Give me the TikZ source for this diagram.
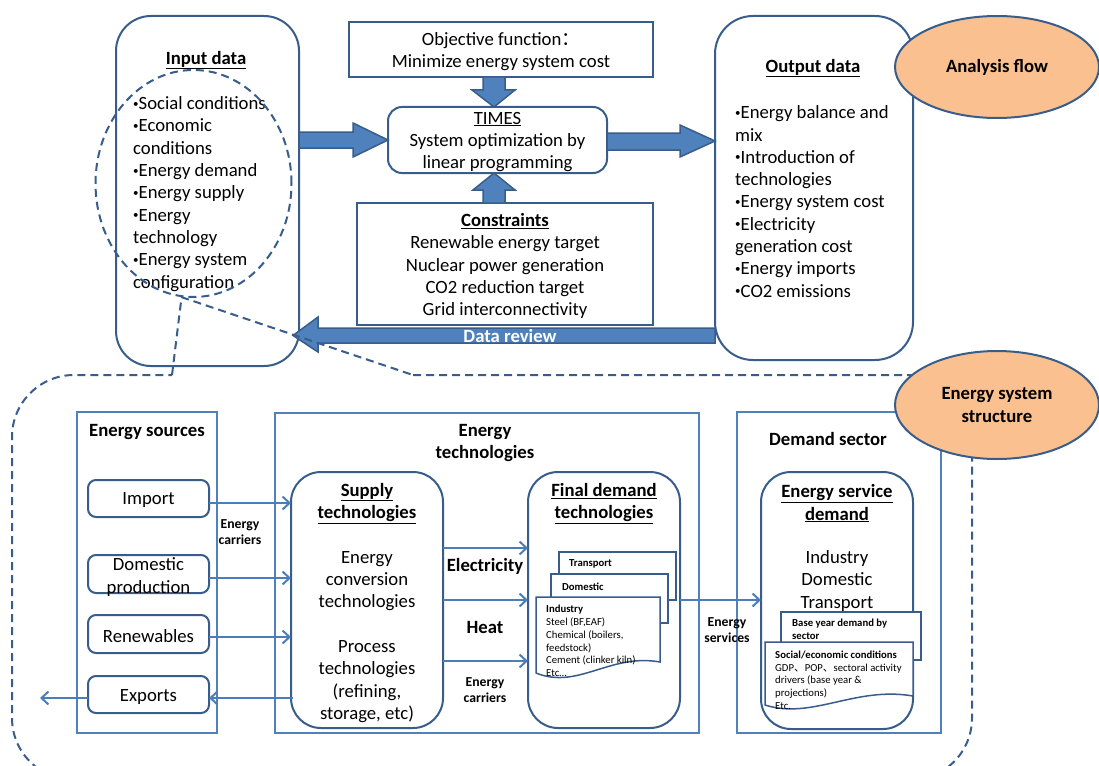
\documentclass[tikz,border=0pt]{standalone}
\usepackage{fontspec}
\setmainfont{Carlito}
\newfontfamily\cjkfont{Noto Sans CJK SC}
\usetikzlibrary{arrows.meta,calc,shapes.geometric}
\definecolor{bdark}{HTML}{385D8A}
\definecolor{bmid}{HTML}{4F81BD}
\definecolor{bline}{HTML}{4A7EBB}
\definecolor{orng}{HTML}{FAC090}
\newcommand\myBody{\fontsize{18.7}{22.3}\selectfont}
\newcommand\myMid{\fontsize{13.7}{16.5}\selectfont}
\newcommand\mySmall{\fontsize{10.7}{12.7}\selectfont}
\newcommand\myBul{\raisebox{2.4pt}{\fontsize{11}{0}\selectfont•}}
\begin{document}
\begin{tikzpicture}[x=1pt,y=-1pt,
  rbox/.style={draw=bdark, line width=2pt, fill=white, rounded corners=#1, inner sep=0pt, outer sep=0pt},
  rbox/.default=30pt,
  sbox/.style={draw=bdark, line width=2pt, fill=white, inner sep=0pt, outer sep=0pt},
  pbox/.style={draw=bmid, line width=1.5pt, inner sep=0pt, outer sep=0pt},
  oval/.style={ellipse, draw=bdark, line width=2pt, fill=orng, inner sep=0pt, font=\myBody\bfseries, align=center},
  barrow/.style={fill=bmid, draw=bdark, line width=1.5pt, line join=miter},
  tarrow/.style={draw=bline, line width=2pt, -{Straight Barb[length=7pt,width=13pt]}},
  dashln/.style={draw=bdark, line width=2pt, dash pattern=on 8pt off 5pt},
  txt/.style={font=\myBody, align=center, inner sep=0pt, yshift=-2pt},
  ttl/.style={font=\myBody\bfseries, align=center, inner sep=0pt, yshift=-2pt},
  ltxt/.style={font=\myBody, align=left, inner sep=0pt, anchor=west, yshift=-2pt},
  mtxt/.style={font=\myMid\bfseries, align=center, inner sep=0pt},
  stxt/.style={font=\mySmall, align=left, inner sep=0pt, anchor=west},
  doc/.style={draw=bdark, line width=1.5pt, fill=white}
]
\useasboundingbox (0,0) rectangle (1099,765);

% ---------- top: analysis flow ----------
\node[rbox=35pt, minimum width=183pt, minimum height=350pt] (inp) at (207.5,191) {};
\node[ttl] (inpT) at (206,58) {\underline{Input data}};
\node[ltxt] (inpL) at (133,192) {\myBul Social conditions\\\myBul Economic\\conditions\\\myBul Energy demand\\\myBul Energy supply\\\myBul Energy\\technology\\\myBul Energy system\\configuration};

\node[sbox, minimum width=304pt, minimum height=55pt] (obj) at (501,49.5) {};
\node[txt] (objT) at (501,49.5) {Objective function{\cjkfont ：}\\Minimize energy system cost};

\node[rbox=14pt, minimum width=219pt, minimum height=66pt] (times) at (497.5,140) {};
\node[txt] (timesT) at (497.5,140) {\underline{TIMES}\\System optimization by\\linear programming};

\node[sbox, minimum width=296pt, minimum height=122pt] (cons) at (505,264) {};
\node[txt] (consT) at (505,264) {\textbf{\underline{Constraints}}\\Renewable energy target\\Nuclear power generation\\CO2 reduction target\\Grid interconnectivity};

\node[rbox=38pt, minimum width=198pt, minimum height=344pt] (out) at (814,188) {};
\node[ttl] (outT) at (813,66) {\underline{Output data}};
\node[ltxt] (outL) at (735,199.5) {\myBul Energy balance and\\mix\\\myBul Introduction of\\technologies\\\myBul Energy system cost\\\myBul Electricity\\generation cost\\\myBul Energy imports\\\myBul CO2 emissions};

% block arrows
\draw[barrow] (inp.east |- 0,132) -- (353,132) -- (353,123) -- (times.west) -- (353,157) -- (353,148) -- (inp.east |- 0,148) -- cycle;
\draw[barrow] (times.east |- 0,133) -- (680,133) -- (680,125) -- (out.west |- 0,141) -- (680,157) -- (680,150) -- (times.east |- 0,150) -- cycle;
\draw[barrow] (483,0 |- obj.south) -- (505,0 |- obj.south) -- (505,90) -- (515,90) -- (494,0 |- times.north) -- (472,90) -- (483,90) -- cycle;
\draw[barrow] (483,0 |- cons.north) -- (505,0 |- cons.north) -- (505,190) -- (515,190) -- (494,0 |- times.south) -- (473,190) -- (483,190) -- cycle;
\draw[barrow] (out.west |- 0,328) -- (318,328) -- (318,317) -- (293,335.5) -- (318,352) -- (318,343) -- (out.west |- 0,343) -- cycle;
\node[ttl, text=white] (dr) at (510,334.5) {Data review};

\node[oval, minimum width=204pt, minimum height=102pt] (af) at (997,67) {Analysis flow};

% ---------- dashed call-out ----------
\node[dashln, ellipse, minimum width=196pt, minimum height=227pt, inner sep=0pt] (sel) at (193.5,183.5) {};
\coordinate (c1) at (172,375);
\coordinate (c2) at (413,375);
\draw[dashln] (c1) -- (sel.264) -- (c2);
\draw[dashln, rounded corners=62pt] (c2) -- (972,375) -- (972,780) -- (12,780) -- (12,375) -- (c1);

% ---------- bottom: energy system structure ----------
\node[pbox, minimum width=140pt, minimum height=321pt] (src) at (147,572.5) {};
\node[ttl] (srcT) at (147,430) {Energy sources};
\node[rbox=8pt, minimum width=121pt, minimum height=37pt] (imp) at (148.5,498.5) {};
\node[txt] (impT) at (148.5,498.5) {Import};
\node[rbox=8pt, minimum width=121pt, minimum height=38pt] (dom) at (148.5,574) {};
\node[txt] (domT) at (148.5,575) {Domestic\\production};
\node[rbox=8pt, minimum width=121pt, minimum height=38pt] (ren) at (148.5,634) {};
\node[txt] (renT) at (148.5,634) {Renewables};
\node[rbox=8pt, minimum width=121pt, minimum height=37pt] (exp) at (148.5,694.5) {};
\node[txt] (expT) at (148.5,694.5) {Exports};

\node[pbox, minimum width=424pt, minimum height=320pt] (tech) at (487,573) {};
\node[ttl] (techT) at (485,441) {Energy\\technologies};
\node[rbox=30pt, minimum width=152pt, minimum height=256pt] (sup) at (367,600) {};
\node[ttl] (supT) at (367,501.5) {\underline{Supply}\\\underline{technologies}};
\node[txt] (supA) at (367,579) {Energy\\conversion\\technologies};
\node[txt] (supB) at (367,679.5) {Process\\technologies\\(refining,\\storage, etc)};
\node[rbox=30pt, minimum width=152pt, minimum height=256pt] (fin) at (604,600) {};
\node[ttl] (finT) at (604,501.5) {\underline{Final demand}\\\underline{technologies}};

\node[pbox, minimum width=204pt, minimum height=321pt] (dem) at (839,572.5) {};
\node[ttl] (demT) at (828,437) {Demand sector};
\node[rbox=30pt, minimum width=152pt, minimum height=257pt] (esd) at (837,600.5) {};
\node[ttl] (esdT) at (837,501.5) {\underline{Energy service}\\\underline{demand}};
\node[txt] (esdA) at (837,579) {Industry\\Domestic\\Transport};

% thin arrows
\coordinate (outx) at (40,698);
\draw[tarrow] ($(imp.east)+(0,4.5)$) -- ($(imp.east -| sup.west)+(0,4.5)$);
\draw[tarrow] ($(dom.east)+(0,4)$) -- ($(dom.east -| sup.west)+(0,4)$);
\draw[tarrow] ($(ren.east)+(0,3)$) -- ($(ren.east -| sup.west)+(0,3)$);
\draw[tarrow] ($(exp.east -| sup.west)+(2,3.5)$) -- ($(exp.east)+(0,3.5)$);
\draw[tarrow] ($(exp.west)+(0,3.5)$) -- (outx);
\node[mtxt] (ecL) at (240,532) {Energy\\carriers};

\draw[tarrow] ($(sup.east)+(0,-52)$) -- ($(fin.west)+(0,-52)$);
\draw[tarrow] (sup.east) -- (fin.west);
\draw[tarrow] ($(sup.east)+(0,61)$) -- ($(fin.west)+(0,61)$);
\node[ttl] (elec) at (485,564) {Electricity};
\node[ttl] (heat) at (485,625) {Heat};
\node[mtxt] (ecM) at (485,690) {Energy\\carriers};

\draw[tarrow] (fin.east) -- (fin.east -| esd.west);
\node[mtxt] (esv) at (727,630) {Energy\\services};

% document stacks
\draw[doc] (559,552) rectangle (676,600);
\node[stxt] (dT) at (569,563.5) {\textbf{Transport}};
\draw[doc] (551,574) rectangle (668,623);
\node[stxt] (dD) at (562,587) {\textbf{Domestic}};
\draw[doc] (536,597) -- (660,597) -- (660,662) .. controls (610,653) and (578,690) .. (536,673) -- cycle;
\node[stxt] (dI) at (546,641) {\textbf{Industry}\\Steel (BF,EAF)\\Chemical (boilers,\\feedstock)\\Cement (clinker kiln)\\Etc…};

\draw[doc] (781,612) rectangle (921,660);
\node[stxt] (dB) at (792,629.5) {\textbf{Base year demand by}\\\textbf{sector}};
\draw[doc] (765,642) -- (913,642) -- (913,696) .. controls (855,686) and (812,720) .. (765,705) -- cycle;
\node[stxt] (dS) at (775,680) {\textbf{Social/economic conditions}\\GDP{\cjkfont 、}POP{\cjkfont 、}sectoral activity\\drivers (base year \&\\projections)\\Etc.};

\node[oval, minimum width=204pt, minimum height=108pt] (ess) at (997,405) {Energy system\\structure};
\end{tikzpicture}
\end{document}
